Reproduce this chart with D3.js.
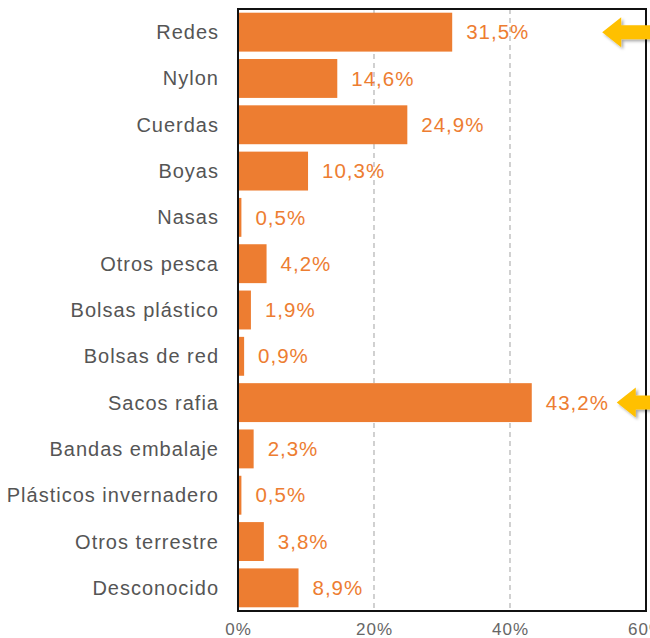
<!DOCTYPE html>
<html>
<head>
<meta charset="utf-8">
<script src="https://cdn.jsdelivr.net/npm/d3@7"></script>
<style>
  body { margin: 0; background: #fff; }
  svg { display: block; font-family: "Liberation Sans", Arial, sans-serif; }
</style>
</head>
<body>
<div id="chart"></div>
<script>
"use strict";

var categories = ["Redes", "Nylon", "Cuerdas", "Boyas", "Nasas", "Otros pesca",
  "Bolsas plástico", "Bolsas de red", "Sacos rafia", "Bandas embalaje",
  "Plásticos invernadero", "Otros terrestre", "Desconocido"];
var values = [31.5, 14.6, 24.9, 10.3, 0.5, 4.2, 1.9, 0.9, 43.2, 2.3, 0.5, 3.8, 8.9];
var ticks = [0, 20, 40, 60];
var highlighted = ["Redes", "Sacos rafia"];

var width = 650, height = 638;
var plotLeft = 238, plotRight = 646, plotTop = 9, plotBottom = 611;

var svg = d3.select('#chart').append('svg')
  .attr('width', width)
  .attr('height', height);

var x = d3.scaleLinear().domain([0, 60]).range([plotLeft, plotRight]);
var y = d3.scaleBand().domain(categories).range([plotTop, plotBottom]).paddingInner(0.16).paddingOuter(0.08);

var fmt = function(v) { return v.toFixed(1).replace('.', ',') + '%'; };

// gridlines
svg.append('g').selectAll('line')
  .data(ticks.filter(function(t) { return t > 0 && t < 60; }))
  .enter().append('line')
  .attr('x1', function(d) { return x(d); })
  .attr('x2', function(d) { return x(d); })
  .attr('y1', plotTop)
  .attr('y2', plotBottom)
  .attr('stroke', '#b8b8b8')
  .attr('stroke-width', 1.3)
  .attr('stroke-dasharray', '5,4');

// bars
svg.append('g').selectAll('rect')
  .data(values).enter()
  .append('rect')
  .attr('x', x(0))
  .attr('y', function(d, i) { return y(categories[i]); })
  .attr('width', function(d) { return x(d) - x(0); })
  .attr('height', y.bandwidth())
  .attr('fill', '#ED7D31');

// value labels
svg.append('g').selectAll('text')
  .data(values).enter()
  .append('text')
  .attr('x', function(d) { return x(d) + 14; })
  .attr('y', function(d, i) { return y(categories[i]) + y.bandwidth() / 2; })
  .attr('dy', '0.35em')
  .attr('fill', '#ED7D31')
  .style('font-size', '20.5px')
  .style('letter-spacing', '1px')
  .text(fmt);

// category labels
svg.append('g').selectAll('text')
  .data(categories).enter()
  .append('text')
  .attr('x', 219)
  .attr('y', function(d) { return y(d) + y.bandwidth() / 2; })
  .attr('dy', '0.35em')
  .attr('text-anchor', 'end')
  .attr('fill', '#555')
  .style('font-size', '20px')
  .style('letter-spacing', '1px')
  .text(function(d) { return d; });

// frame
svg.append('rect')
  .attr('x', plotLeft)
  .attr('y', plotTop)
  .attr('width', plotRight - plotLeft)
  .attr('height', plotBottom - plotTop)
  .attr('fill', 'none')
  .attr('stroke', '#111')
  .attr('stroke-width', 2);

// x axis
var xAxis = svg.append('g')
  .attr('transform', 'translate(0,' + plotBottom + ')')
  .call(d3.axisBottom(x).tickValues(ticks).tickSize(0).tickPadding(12)
    .tickFormat(function(d) { return d + '%'; }));
xAxis.select('.domain').remove();
xAxis.selectAll('text')
  .attr('fill', '#666')
  .style('font-size', '17px')
  .style('letter-spacing', '1px')
  .style('font-family', '"Liberation Sans", Arial, sans-serif');

// arrows
var defs = svg.append('defs');
var filter = defs.append('filter').attr('id', 'shadow')
  .attr('x', '-30%').attr('y', '-30%').attr('width', '160%').attr('height', '160%');
filter.append('feDropShadow')
  .attr('dx', 2).attr('dy', 2).attr('stdDeviation', 1.5)
  .attr('flood-color', '#000').attr('flood-opacity', 0.35);

var arrowTip = { "Redes": x(31.5) + 150, "Sacos rafia": x(43.2) + 85 };
svg.append('g').selectAll('path')
  .data(highlighted).enter()
  .append('path')
  .attr('d', function(d) {
    var tx = arrowTip[d];
    var cy = y(d) + y.bandwidth() / 2;
    return 'M' + tx + ',' + cy +
      'L' + (tx + 19) + ',' + (cy - 15) +
      'L' + (tx + 19) + ',' + (cy - 7) +
      'L' + (width + 10) + ',' + (cy - 7) +
      'L' + (width + 10) + ',' + (cy + 7) +
      'L' + (tx + 19) + ',' + (cy + 7) +
      'L' + (tx + 19) + ',' + (cy + 15) + 'Z';
  })
  .attr('fill', '#FFC000')
  .attr('filter', 'url(#shadow)');
</script>
</body>
</html>
